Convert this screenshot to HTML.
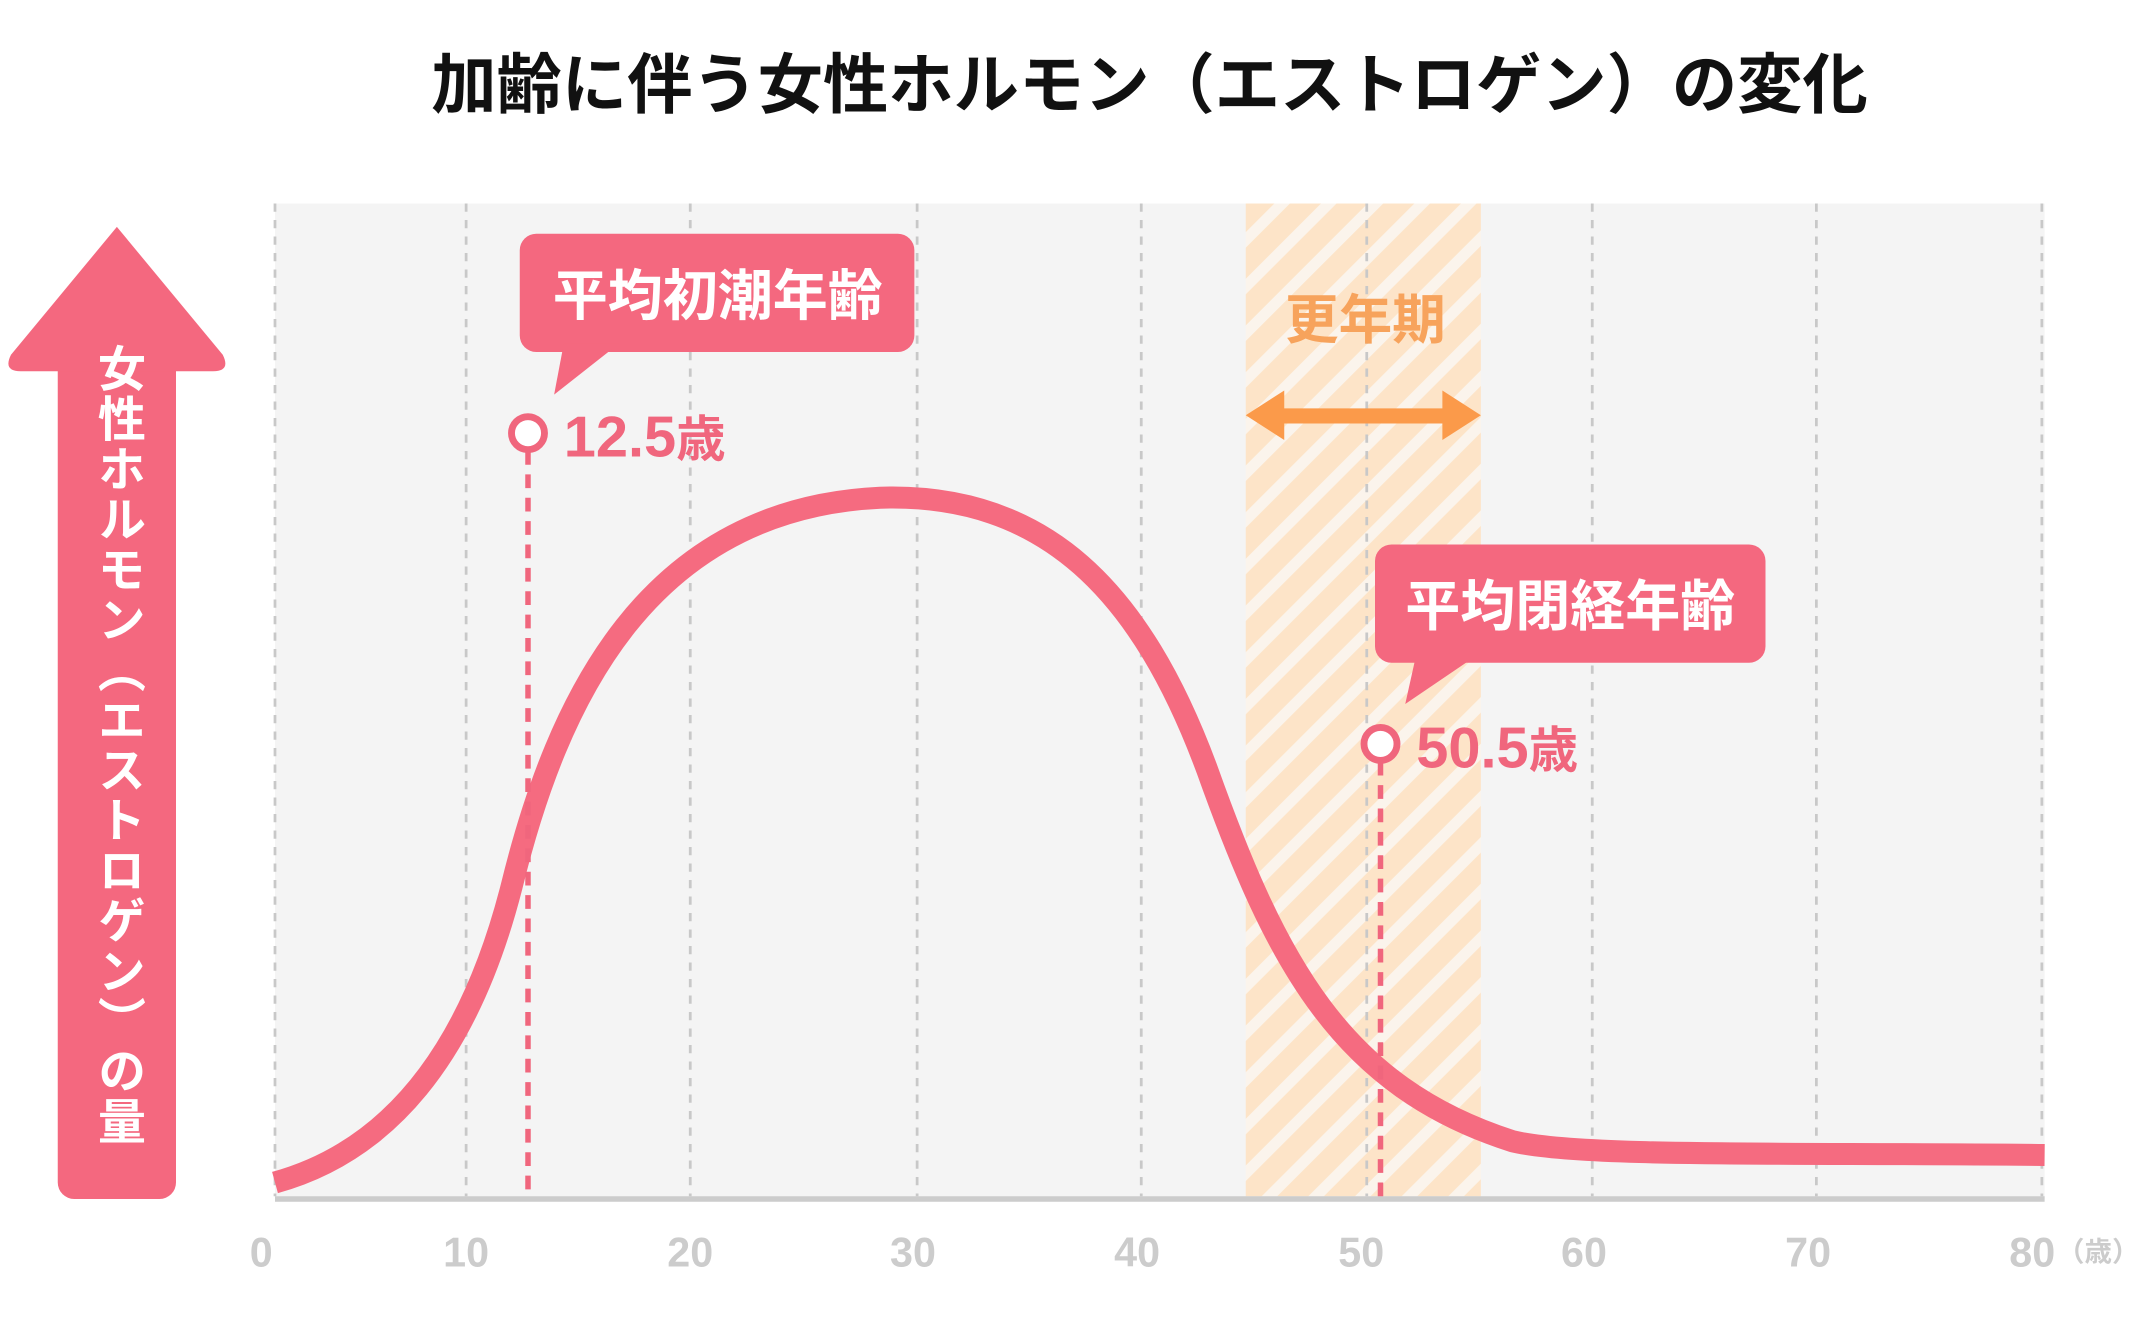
<!DOCTYPE html>
<html><head><meta charset="utf-8"><style>
html,body{margin:0;padding:0;background:#fff;}
svg{display:block;}
text{font-family:"Liberation Sans","Noto Sans CJK JP",sans-serif;font-weight:bold;}
</style></head><body>
<svg width="2156" height="1331" viewBox="0 0 1568 968" preserveAspectRatio="none" xmlns="http://www.w3.org/2000/svg">
<defs>
<pattern id="hatch" patternUnits="userSpaceOnUse" width="24" height="24" patternTransform="rotate(45)">
<rect width="24" height="24" fill="#fbf4ec"/>
<rect width="16" height="24" fill="#fde4c8"/>
</pattern>
</defs>
<text x="836" y="78" font-size="47.5" text-anchor="middle" fill="#111">加齢に伴う女性ホルモン（エストロゲン）の変化</text>
<rect x="200" y="148" width="1287" height="724" fill="#f4f4f4"/>
<rect x="906" y="148" width="171" height="722" fill="url(#hatch)"/>
<g stroke="#c8c8c8" stroke-width="2" stroke-dasharray="6,6">
<line x1="200" y1="148" x2="200" y2="870"/><line x1="339" y1="148" x2="339" y2="870"/>
<line x1="502" y1="148" x2="502" y2="870"/><line x1="667" y1="148" x2="667" y2="870"/>
<line x1="830" y1="148" x2="830" y2="870"/><line x1="994" y1="148" x2="994" y2="870"/>
<line x1="1158" y1="148" x2="1158" y2="870"/><line x1="1321" y1="148" x2="1321" y2="870"/>
<line x1="1485" y1="148" x2="1485" y2="870"/>
</g>
<line x1="200" y1="872" x2="1487" y2="872" stroke="#cccccc" stroke-width="4"/>
<text x="993" y="246" font-size="39" text-anchor="middle" fill="#f7a35c">更年期</text>
<g fill="#fb9a4a">
<rect x="925" y="297" width="133" height="11"/>
<polygon points="906,302 934,284 934,320"/>
<polygon points="1077,302 1049,284 1049,320"/>
</g>
<path d="M200,860 C280,838 340,770 372,645 C405,510 470,370 640,362 C760,358 830,430 878,560 C928,700 975,790 1100,830 C1150,842 1300,838 1487,840" fill="none" stroke="#f56b80" stroke-width="16"/>
<g stroke="#f0667d" stroke-width="4" stroke-dasharray="10,7">
<line x1="384" y1="328" x2="384" y2="870"/>
<line x1="1004" y1="554" x2="1004" y2="870"/>
</g>
<circle cx="384" cy="315" r="12" fill="#fff" stroke="#f0667d" stroke-width="5"/>
<circle cx="1004" cy="541" r="12" fill="#fff" stroke="#f0667d" stroke-width="5"/>
<text x="410" y="332" font-size="42" fill="#f0667d">12.5<tspan font-size="36">歳</tspan></text>
<text x="1030" y="558" font-size="42" fill="#f0667d">50.5<tspan font-size="36">歳</tspan></text>
<g fill="#f4687f">
<rect x="378" y="170" width="287" height="86" rx="12"/>
<polygon points="410,250 450,250 403,287"/>
<rect x="1000" y="396" width="284" height="86" rx="12"/>
<polygon points="1030,476 1075,476 1022,512"/>
</g>
<text x="522" y="229" font-size="40" text-anchor="middle" fill="#fff">平均初潮年齢</text>
<text x="1142" y="455" font-size="40" text-anchor="middle" fill="#fff">平均閉経年齢</text>
<g fill="#f4687f">
<rect x="42" y="240" width="86" height="632" rx="12"/>
<path d="M85,165 L162,258 Q168,270 155,270 L15,270 Q2,270 8,258 Z"/>
</g>
<text x="85" y="250" font-size="35" letter-spacing="1.5" fill="#fff" style="writing-mode:vertical-rl;glyph-orientation-vertical:0" text-anchor="start">女性ホルモン（エストロゲン）の量</text>
<g font-size="30" fill="#cccccc" text-anchor="middle">
<text x="190" y="921">0</text><text x="339" y="921">10</text><text x="502" y="921">20</text>
<text x="664" y="921">30</text><text x="827" y="921">40</text><text x="990" y="921">50</text>
<text x="1152" y="921">60</text><text x="1315" y="921">70</text><text x="1478" y="921">80</text>
</g>
<text x="1496" y="917" font-size="20" fill="#cccccc">（歳）</text>
</svg>
</body></html>
